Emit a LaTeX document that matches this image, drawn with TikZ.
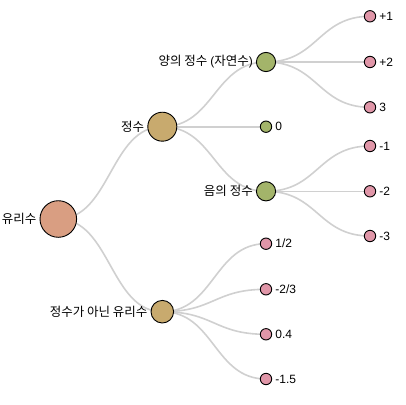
\documentclass[tikz,border=0pt]{standalone}
\usepackage{fontspec}
\setmainfont{Liberation Sans}
\newfontfamily\kr{Noto Sans CJK KR}
\usetikzlibrary{calc,backgrounds}
\definecolor{rootc}{HTML}{D99E82}
\definecolor{goldc}{HTML}{C8AA6E}
\definecolor{greenc}{HTML}{A3B46A}
\definecolor{pinkc}{HTML}{E096A8}
\definecolor{linkc}{HTML}{D0D0D0}
\newcommand\krf{\kr\fontsize{12.5}{14}\selectfont}
\tikzset{
  nd/.style={circle,draw=black,line width=0.9pt,inner sep=0pt,minimum size=#1},
  lab/.style={font=\fontsize{12}{14}\selectfont,inner sep=0pt,label distance=3pt},
  link/.style={draw=linkc,line width=1.6pt},
}
\newcommand\lnk[2]{\draw[link] let \p1=(#1.center), \p2=(#2.center) in (\p1) .. controls ({(\x1+\x2)/2},\y1) and ({(\x1+\x2)/2},\y2) .. (\p2);}
\begin{document}
\begin{tikzpicture}[x=1pt,y=-1pt]
\useasboundingbox (0,0) rectangle (406,404);
\node[nd=36.6pt,fill=rootc,label={[lab]left:{\krf 유리수}}] (r) at (58.3,219) {};
\node[nd=29pt,fill=goldc,label={[lab]left:{\krf 정수}}] (i) at (162.3,126.7) {};
\node[nd=22.6pt,fill=goldc,label={[lab]left:{\krf 정수가 아닌 유리수}}] (f) at (162.3,311.7) {};
\node[nd=19.2pt,fill=greenc,label={[lab]left:{\krf 양의 정수 {\rmfamily\fontsize{12}{14}\selectfont(}자연수{\rmfamily\fontsize{12}{14}\selectfont)}}}] (p) at (266,62) {};
\node[nd=11.4pt,fill=greenc,label={[lab]right:0}] (z) at (266,126.7) {};
\node[nd=19.2pt,fill=greenc,label={[lab]left:{\krf 음의 정수}}] (n) at (266,191.3) {};
\node[nd=11.4pt,fill=pinkc,label={[lab]right:+1}] (p1) at (370,16.3) {};
\node[nd=11.4pt,fill=pinkc,label={[lab]right:+2}] (p2) at (370,62) {};
\node[nd=11.4pt,fill=pinkc,label={[lab]right:3}] (p3) at (370,107.3) {};
\node[nd=11.4pt,fill=pinkc,label={[lab]right:-1}] (n1) at (370,146) {};
\node[nd=11.4pt,fill=pinkc,label={[lab]right:-2}] (n2) at (370,191.3) {};
\node[nd=11.4pt,fill=pinkc,label={[lab]right:-3}] (n3) at (370,236) {};
\node[nd=11.4pt,fill=pinkc,label={[lab]right:1/2}] (f1) at (266,243.7) {};
\node[nd=11.4pt,fill=pinkc,label={[lab]right:-2/3}] (f2) at (266,289.3) {};
\node[nd=11.4pt,fill=pinkc,label={[lab]right:0.4}] (f3) at (266,334.3) {};
\node[nd=11.4pt,fill=pinkc,label={[lab]right:-1.5}] (f4) at (266,379) {};
\begin{scope}[on background layer]
\lnk{r}{i}\lnk{r}{f}
\lnk{i}{p}\lnk{i}{z}\lnk{i}{n}
\lnk{p}{p1}\lnk{p}{p2}\lnk{p}{p3}
\lnk{n}{n1}\lnk{n}{n2}\lnk{n}{n3}
\lnk{f}{f1}\lnk{f}{f2}\lnk{f}{f3}\lnk{f}{f4}
\end{scope}
\end{tikzpicture}
\end{document}
